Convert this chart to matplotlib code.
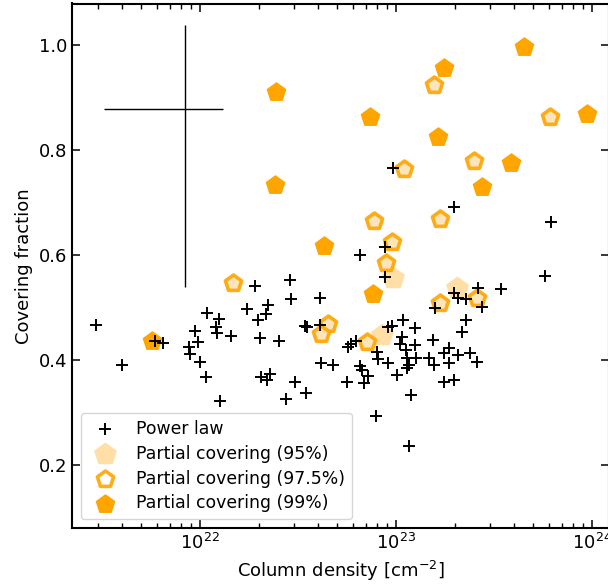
import matplotlib
matplotlib.use("Agg")
import matplotlib.pyplot as plt
import numpy as np

# power law fits
pl_nh = [2.95e21, 4.0e21, 5.9e21, 6.5e21, 8.8e21, 8.87e21, 9.7e21, 9.4e21, 1.0e22, 1.07e22,
         1.09e22, 1.25e22, 1.2e22, 1.22e22, 1.26e22, 1.43e22, 1.74e22, 1.9e22, 1.98e22, 2.02e22,
         2.04e22, 2.2e22, 2.26e22, 2.17e22, 2.23e22, 2.53e22, 2.75e22, 2.91e22, 2.89e22, 3.05e22,
         3.44e22, 3.5e22, 3.48e22, 4.08e22, 4.07e22, 4.13e22, 4.75e22, 5.65e22, 5.7e22, 5.9e22,
         6.25e22, 6.52e22, 6.55e22, 6.7e22, 6.87e22, 7.2e22, 7.9e22, 8.0e22, 8.1e22, 8.75e22,
         8.81e22, 9.1e22, 9.1e22, 9.55e22, 9.7e22, 1.01e23, 1.07e23, 1.08e23, 1.05e23, 1.12e23,
         1.14e23, 1.16e23, 1.14e23, 1.19e23, 1.17e23, 1.25e23, 1.25e23, 1.26e23, 1.54e23, 1.48e23,
         1.56e23, 1.58e23, 1.75e23, 1.75e23, 1.86e23, 1.86e23, 1.98e23, 1.98e23, 1.98e23, 2.06e23,
         2.08e23, 2.17e23, 2.28e23, 2.28e23, 2.37e23, 2.6e23, 2.63e23, 2.74e23, 3.45e23, 5.77e23,
         6.18e23]
pl_cf = [0.467, 0.390, 0.436, 0.432, 0.425, 0.411, 0.435, 0.455, 0.397, 0.367,
         0.489, 0.479, 0.463, 0.451, 0.322, 0.446, 0.498, 0.540, 0.476, 0.441,
         0.368, 0.362, 0.373, 0.488, 0.505, 0.437, 0.325, 0.516, 0.552, 0.359,
         0.465, 0.463, 0.337, 0.467, 0.519, 0.394, 0.390, 0.359, 0.424, 0.430,
         0.437, 0.600, 0.389, 0.380, 0.356, 0.370, 0.293, 0.416, 0.401, 0.616,
         0.559, 0.394, 0.462, 0.465, 0.766, 0.371, 0.443, 0.476, 0.430, 0.419,
         0.403, 0.390, 0.384, 0.333, 0.236, 0.460, 0.429, 0.403, 0.438, 0.403,
         0.390, 0.4985, 0.413, 0.359, 0.422, 0.394, 0.362, 0.527, 0.692, 0.518,
         0.410, 0.453, 0.516, 0.476, 0.414, 0.397, 0.538, 0.500, 0.535, 0.560,
         0.663]

# partial covering, 95%
pc95_nh = [9.68e22, 2.04e23, 8.45e22]
pc95_cf = [0.556, 0.538, 0.448]

# partial covering, 97.5%
pc975_nh = [1.56e23, 6.1e23, 2.49e23, 1.1e23, 7.73e22, 1.68e23, 9.48e22, 8.91e22, 1.48e22,
            2.58e23, 1.68e23, 4.47e22, 4.16e22, 7.08e22]
pc975_cf = [0.923, 0.862, 0.779, 0.763, 0.664, 0.669, 0.624, 0.585, 0.546,
            0.519, 0.508, 0.468, 0.449, 0.435]

# partial covering, 99%
pc99_nh = [4.5e23, 1.76e23, 2.45e22, 7.35e22, 9.4e23, 1.64e23, 3.85e23, 2.75e23, 2.42e22,
           4.3e22, 7.6e22, 5.7e21]
pc99_cf = [0.996, 0.957, 0.910, 0.862, 0.868, 0.825, 0.775, 0.730, 0.733,
           0.618, 0.525, 0.437]

# typical error bar
err_nh = 8.4e21
err_cf = 0.879
err_nh_lo, err_nh_hi = 5.15e21, 4.7e21
err_cf_lo, err_cf_hi = 0.34, 0.16

fig = plt.figure(figsize=(6.08, 5.85), dpi=100)
ax = fig.add_axes([72 / 608, 57 / 585, 537 / 608, 524.5 / 585])

ax.errorbar([err_nh], [err_cf], xerr=[[err_nh_lo], [err_nh_hi]],
            yerr=[[err_cf_lo], [err_cf_hi]], fmt='none', ecolor='black', elinewidth=1.0)

ax.scatter(pc95_nh, pc95_cf, marker='p', s=300, color='orange', alpha=0.35,
           linewidths=0, label='Partial covering (95%)', zorder=3)
sc975 = ax.scatter(pc975_nh, pc975_cf, marker='p', s=150, facecolors='#fde2b4',
                   edgecolors='orange', linewidths=2.6, alpha=0.9,
                   label='Partial covering (97.5%)', zorder=3)
ax.scatter(pc99_nh, pc99_cf, marker='p', s=190, color='orange',
           label='Partial covering (99%)', zorder=3)
ax.scatter(pl_nh, pl_cf, marker='+', s=70, color='black', linewidths=1.4,
           label='Power law', zorder=4)

ax.set_xscale('log')
ax.set_xlim(2.22e21, 1.22e24)
ax.set_ylim(0.08, 1.079)
ax.set_yticks([0.2, 0.4, 0.6, 0.8, 1.0])

ax.tick_params(which='both', direction='in', top=True, right=True, labelsize=13)
ax.tick_params(which='major', length=6, width=1.1)
ax.tick_params(which='minor', length=3.5, width=1.0)
for sp in ax.spines.values():
    sp.set_linewidth(1.5)

ax.set_xlabel('Column density [cm$^{-2}$]', fontsize=13)
ax.set_ylabel('Covering fraction', fontsize=13)

handles, labels = ax.get_legend_handles_labels()
order = [3, 0, 1, 2]
leg = ax.legend([handles[i] for i in order], [labels[i] for i in order],
                loc='lower left', fontsize=12.4, labelspacing=0.4)
leg.legend_handles[2].set_facecolor('white')

fig.savefig('out.png', dpi=100)
